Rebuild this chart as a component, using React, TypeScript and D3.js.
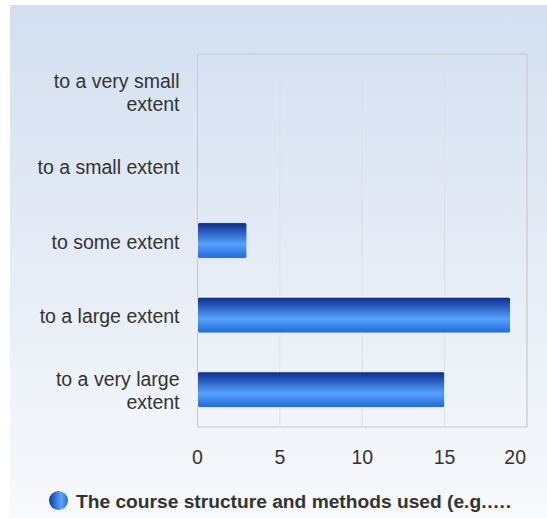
import React from "react";
import * as d3 from "d3";

const categories = [
  ["to a very small", "extent"],
  ["to a small extent"],
  ["to some extent"],
  ["to a large extent"],
  ["to a very large", "extent"],
];
const values = [0, 0, 3, 19, 15];
const xTicks = [0, 5, 10, 15, 20];
const seriesName = "The course structure and methods used (e.g.….";

const W = 547;
const H = 518;
const M = { left: 197.5, right: 527, top: 54, bottom: 427 };

export default function App() {
  const x = d3.scaleLinear().domain([0, 20]).range([M.left, M.right]);
  const y = d3
    .scaleBand<number>()
    .domain(d3.range(categories.length))
    .range([M.top, M.bottom])
    .paddingInner(0.52)
    .paddingOuter(0.26);
  const font = "'Liberation Sans', Arial, sans-serif";
  return (
    <svg
      width={W}
      height={H}
      style={{ position: "absolute", left: 0, top: 0, display: "block" }}
      fontFamily={font}
    >
      <defs>
        <linearGradient id="bg" x1="0" y1="0" x2="0" y2="1">
          <stop offset="0" stopColor="#d3dff0" />
          <stop offset="1" stopColor="#f8f9fc" />
        </linearGradient>
        <linearGradient id="bar" x1="0" y1="0" x2="0" y2="1">
          <stop offset="0" stopColor="#082a8c" />
          <stop offset="0.6" stopColor="#56a2ff" />
          <stop offset="1" stopColor="#2466d6" />
        </linearGradient>
        <linearGradient id="leg" x1="0" y1="0" x2="1" y2="0">
          <stop offset="0" stopColor="#0a3aa8" />
          <stop offset="0.65" stopColor="#5aa6ff" />
          <stop offset="1" stopColor="#2a6ad8" />
        </linearGradient>
      </defs>
      <rect x={0} y={0} width={W} height={H} fill="#ffffff" />
      <rect x={10} y={5} width={W - 10} height={H - 5} fill="url(#bg)" />
      {xTicks.map((t) => (
        <line
          key={"g" + t}
          x1={x(t)}
          x2={x(t)}
          y1={M.top}
          y2={M.bottom}
          stroke="#dcdfe5"
          strokeWidth={1}
        />
      ))}
      <rect
        x={M.left}
        y={M.top}
        width={M.right - M.left}
        height={M.bottom - M.top}
        fill="none"
        stroke="#c8c8c8"
        strokeWidth={1}
      />
      {values.map((v, i) =>
        v > 0 ? (
          <rect
            key={"b" + i}
            x={x(0)}
            y={y(i)!}
            width={x(v) - x(0)}
            height={y.bandwidth()}
            rx={2}
            fill="url(#bar)"
            stroke="#ffffff"
            strokeWidth={0.8}
          />
        ) : null
      )}
      {categories.map((lines, i) => {
        const cy = y(i)! + y.bandwidth() / 2;
        const lh = 22.5;
        const y0 = cy + 8 - ((lines.length - 1) * lh) / 2;
        return (
          <text key={"c" + i} textAnchor="end" fontSize={19.5} fill="#333333">
            {lines.map((l, j) => (
              <tspan key={j} x={179.5} y={y0 + j * lh}>
                {l}
              </tspan>
            ))}
          </text>
        );
      })}
      {xTicks.map((t, i) => (
        <text
          key={"t" + t}
          x={i === xTicks.length - 1 ? 526 : x(t)}
          y={464}
          textAnchor={i === xTicks.length - 1 ? "end" : "middle"}
          fontSize={19.5}
          fill="#333333"
        >
          {t}
        </text>
      ))}
      <circle cx={58.5} cy={500.5} r={9.5} fill="url(#leg)" />
      <text x={76} y={507.5} fontSize={19.2} fontWeight="bold" fill="#333333">
        {seriesName}
      </text>
    </svg>
  );
}
